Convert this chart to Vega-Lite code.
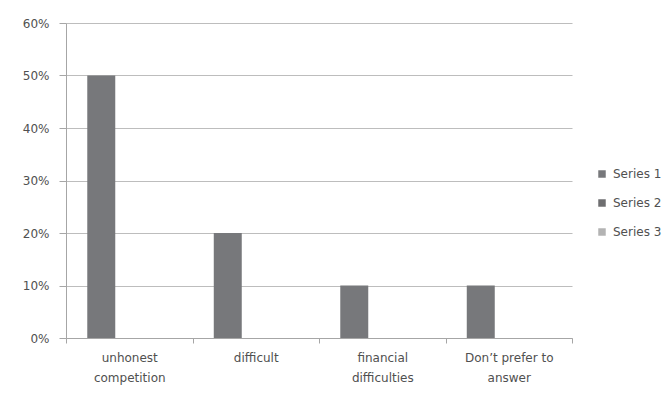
{
  "$schema": "https://vega.github.io/schema/vega-lite/v6.json",
  "width": 506,
  "height": 315,
  "autosize": {"type": "none"},
  "padding": {"left": 66, "top": 23, "right": 95, "bottom": 58},
  "background": "white",
  "config": {"view": {"stroke": null}, "font": "DejaVu Sans"},
  "data": {
    "values": [
      {"category": "unhonest competition", "series": "Series 1", "value": 0.5},
      {"category": "unhonest competition", "series": "Series 2", "value": 0},
      {"category": "unhonest competition", "series": "Series 3", "value": 0},
      {"category": "difficult", "series": "Series 1", "value": 0.2},
      {"category": "difficult", "series": "Series 2", "value": 0},
      {"category": "difficult", "series": "Series 3", "value": 0},
      {"category": "financial difficulties", "series": "Series 1", "value": 0.1},
      {"category": "financial difficulties", "series": "Series 2", "value": 0},
      {"category": "financial difficulties", "series": "Series 3", "value": 0},
      {"category": "Don’t prefer to answer", "series": "Series 1", "value": 0.1},
      {"category": "Don’t prefer to answer", "series": "Series 2", "value": 0},
      {"category": "Don’t prefer to answer", "series": "Series 3", "value": 0}
    ]
  },
  "mark": {"type": "bar"},
  "encoding": {
    "x": {
      "field": "category",
      "type": "nominal",
      "sort": null,
      "scale": {"paddingInner": 0, "paddingOuter": 0},
      "axis": {
        "title": null,
        "labelAngle": 0,
        "tickBand": "extent",
        "tickSize": 5,
        "tickColor": "#a6a6a6",
        "domainColor": "#a6a6a6",
        "labelPadding": 9,
        "labelFontSize": 12,
        "labelColor": "#505050",
        "labelLineHeight": 20,
        "labelExpr": "datum.value == 'unhonest competition' ? ['unhonest', 'competition'] : datum.value == 'financial difficulties' ? ['financial', 'difficulties'] : datum.value == 'Don’t prefer to answer' ? ['Don’t prefer  to', 'answer'] : datum.value"
      }
    },
    "xOffset": {
      "field": "series",
      "type": "nominal",
      "scale": {"domain": ["Series 1", "Series 2", "Series 3"], "paddingInner": 0, "paddingOuter": 0.76}
    },
    "y": {
      "field": "value",
      "type": "quantitative",
      "scale": {"domain": [0, 0.6], "nice": false},
      "axis": {
        "title": null,
        "format": ".0%",
        "values": [0, 0.1, 0.2, 0.3, 0.4, 0.5, 0.6],
        "tickSize": 7,
        "tickColor": "#a6a6a6",
        "domainColor": "#a6a6a6",
        "gridColor": "#bdbdbd",
        "labelPadding": 10,
        "labelFontSize": 12,
        "labelColor": "#505050"
      }
    },
    "color": {
      "field": "series",
      "type": "nominal",
      "scale": {"domain": ["Series 1", "Series 2", "Series 3"], "range": ["#77787b", "#6e6e70", "#b3b3b3"]},
      "legend": {
        "title": null,
        "orient": "none",
        "legendX": 530,
        "legendY": 145,
        "symbolType": "square",
        "symbolSize": 56,
        "symbolStrokeWidth": 0,
        "labelFontSize": 12,
        "labelColor": "#505050",
        "labelOffset": 5,
        "rowPadding": 17,
        "padding": 0
      }
    }
  }
}
